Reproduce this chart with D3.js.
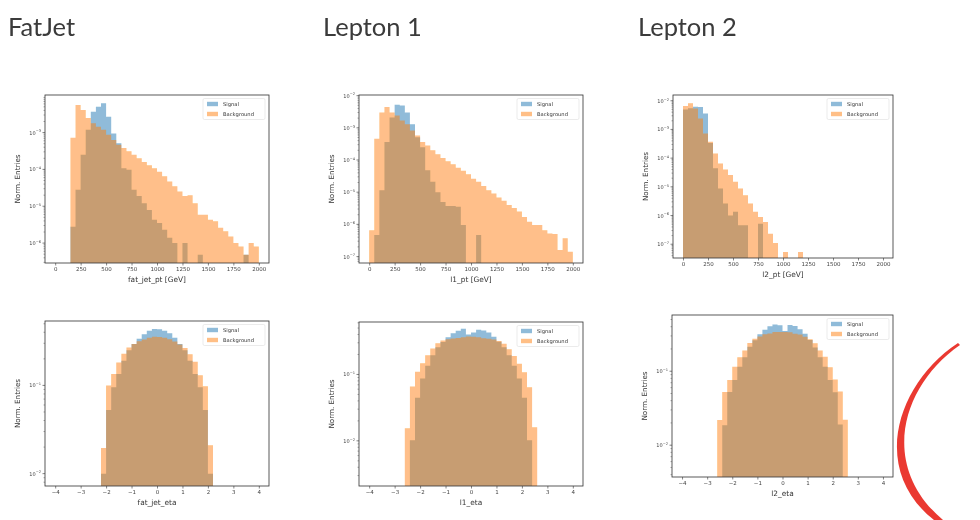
<!DOCTYPE html>
<html>
<head>
<meta charset="utf-8">
<script src="https://cdn.jsdelivr.net/npm/d3@7"></script>
<style>
  body { margin: 0; background: #fff; }
  svg { display: block; }
</style>
</head>
<body>
<div id="vis"></div>
<script>
const width = 980;
const height = 520;

// column titles
const titles = ['FatJet', 'Lepton 1', 'Lepton 2'];

// tick labels
const ptTicks = [0, 250, 500, 750, 1000, 1250, 1500, 1750, 2000];
const etaTicks = [-4, -3, -2, -1, 0, 1, 2, 3, 4];

// pt histograms: 40 bins of 50 GeV from 0 to 2000 (normalised entries)
const ptEdges = d3.range(0, 2001, 50);

const fatJetPtSig = [0, 0, 0, 2.8e-6, 2.8e-5, 2.5e-4, 1.2e-3, 3.7e-3, 5.0e-3, 6.3e-3,
  2.7e-3, 9.5e-4, 5.1e-4, 1.07e-4, 9.8e-5, 2.8e-5, 1.9e-5, 1.2e-5, 7.9e-6, 4.3e-6,
  3.5e-6, 2.3e-6, 1.4e-6, 1.0e-6, 0, 1.0e-6, 0, 0, 4.8e-7, 0,
  0, 0, 0, 0, 0, 0, 0, 4.8e-7, 0, 0];
const fatJetPtBkg = [0, 0, 0, 7.2e-4, 5.6e-3, 4.1e-3, 2.5e-3, 1.8e-3, 1.45e-3, 1.2e-3,
  8.7e-4, 6.3e-4, 4.7e-4, 3.8e-4, 3.1e-4, 2.5e-4, 2.0e-4, 1.6e-4, 1.3e-4, 1.07e-4,
  8.7e-5, 6.5e-5, 4.7e-5, 3.5e-5, 2.5e-5, 1.9e-5, 2.0e-5, 1.2e-5, 5.9e-6, 5.9e-6,
  4.3e-6, 3.9e-6, 2.6e-6, 2.1e-6, 1.5e-6, 1.0e-6, 8.1e-7, 4.8e-7, 1.0e-6, 8.1e-7];

const l1PtSig = [0, 4.7e-7, 1.15e-5, 3.6e-4, 2.1e-3, 5.2e-3, 4.9e-3, 3.0e-3, 1.3e-3, 5.1e-4,
  2.5e-4, 4.8e-5, 2.1e-5, 1.0e-5, 5.0e-6, 3.7e-6, 3.7e-6, 3.5e-6, 9.5e-7, 0,
  0, 4.7e-7, 0, 0, 0, 0, 0, 0, 0, 0,
  0, 0, 0, 0, 0, 0, 0, 0, 0, 0];
const l1PtBkg = [6.6e-7, 4.6e-4, 3.0e-3, 4.4e-3, 3.0e-3, 2.4e-3, 1.7e-3, 1.3e-3, 8.3e-4, 5.8e-4,
  3.6e-4, 2.8e-4, 2.0e-4, 1.5e-4, 1.15e-4, 9.1e-5, 7.4e-5, 5.8e-5, 4.6e-5, 3.6e-5,
  2.6e-5, 2.1e-5, 1.55e-5, 1.15e-5, 9.1e-6, 6.9e-6, 5.4e-6, 4.0e-6, 3.2e-6, 2.5e-6,
  1.7e-6, 1.2e-6, 9.5e-7, 9.5e-7, 6.6e-7, 5.2e-7, 5.0e-7, 1.6e-7, 3.7e-7, 1.4e-7];

const l2PtSig = [5.0e-3, 5.5e-3, 6.2e-3, 6.0e-3, 3.6e-3, 3.4e-4, 4.4e-5, 8.7e-6, 2.6e-6, 1.0e-6,
  1.35e-6, 4.6e-7, 4.6e-7, 0, 0, 5.2e-7, 0, 0, 0, 0,
  0, 0, 0, 0, 0, 0, 0, 0, 0, 0,
  0, 0, 0, 0, 0, 0, 0, 0, 0, 0];
const l2PtBkg = [6.5e-3, 8.1e-3, 5.4e-3, 2.4e-3, 7.2e-4, 3.7e-4, 1.45e-4, 6.5e-5, 4.0e-5, 2.6e-5,
  1.5e-5, 8.7e-6, 5.1e-6, 2.6e-6, 1.35e-6, 8.9e-7, 6.0e-7, 2.3e-7, 1.1e-7, 0,
  5.4e-8, 0, 0, 5.4e-8, 0, 0, 0, 0, 0, 0,
  0, 0, 0, 0, 0, 0, 0, 0, 0, 0];

// eta histograms: bins of 0.2
const fatJetEtaEdges = d3.range(23).map(i => -2.2 + i * 0.2);
const lepEtaEdges = d3.range(27).map(i => -2.6 + i * 0.2);

const fatJetEtaSig = [0.010, 0.0525, 0.0955, 0.135, 0.19, 0.251, 0.295, 0.339, 0.38, 0.417, 0.437,
  0.432, 0.417, 0.389, 0.347, 0.295, 0.251, 0.19, 0.135, 0.0955, 0.0525, 0.010];
const fatJetEtaBkg = [0.0195, 0.10, 0.135, 0.182, 0.229, 0.269, 0.295, 0.316, 0.331, 0.347, 0.355,
  0.354, 0.346, 0.333, 0.314, 0.29, 0.265, 0.225, 0.185, 0.13, 0.098, 0.021];

const l1EtaSig = [0, 0.0102, 0.0447, 0.087, 0.135, 0.195, 0.257, 0.309, 0.363, 0.417, 0.457, 0.49, 0.40,
  0.43, 0.47, 0.46, 0.43, 0.37, 0.31, 0.257, 0.195, 0.135, 0.087, 0.0447, 0.0102, 0];
const l1EtaBkg = [0.0155, 0.066, 0.11, 0.148, 0.195, 0.245, 0.295, 0.324, 0.339, 0.347, 0.355, 0.363, 0.372,
  0.370, 0.362, 0.352, 0.345, 0.336, 0.32, 0.29, 0.24, 0.19, 0.145, 0.108, 0.064, 0.016];

const l2EtaSig = [0, 0.0186, 0.0525, 0.0759, 0.115, 0.155, 0.214, 0.263, 0.316, 0.363, 0.407, 0.427, 0.417,
  0.35, 0.42, 0.41, 0.37, 0.32, 0.265, 0.21, 0.155, 0.115, 0.076, 0.052, 0.019, 0];
const l2EtaBkg = [0.0219, 0.0525, 0.0759, 0.115, 0.155, 0.191, 0.24, 0.275, 0.295, 0.316, 0.324, 0.339, 0.339,
  0.338, 0.337, 0.322, 0.314, 0.293, 0.27, 0.238, 0.19, 0.157, 0.113, 0.077, 0.053, 0.022];

const seriesNames = ['Signal', 'Background'];
const colors = ['#1f77b4', '#ff7f0e'];

// panel layout: frame box in page pixels, axis ranges
const panels = [
  { x: 45, y: 95, w: 224, h: 168, xDom: [-100, 2100], yExp: [-6.54, -1.98], yTicks: [-3, -4, -5, -6],
    xTicks: ptTicks, edges: ptEdges, sig: fatJetPtSig, bkg: fatJetPtBkg, xLabel: 'fat_jet_pt [GeV]' },
  { x: 359, y: 95, w: 224, h: 168, xDom: [-100, 2100], yExp: [-7.2, -1.98], yTicks: [-2, -3, -4, -5, -6, -7],
    xTicks: ptTicks, edges: ptEdges, sig: l1PtSig, bkg: l1PtBkg, xLabel: 'l1_pt [GeV]' },
  { x: 673, y: 95, w: 220, h: 163, xDom: [-100, 2100], yExp: [-7.48, -1.8], yTicks: [-2, -3, -4, -5, -6, -7],
    xTicks: ptTicks, edges: ptEdges, sig: l2PtSig, bkg: l2PtBkg, xLabel: 'l2_pt [GeV]' },
  { x: 45, y: 321, w: 224, h: 165, xDom: [-4.4, 4.4], yExp: [-2.14, -0.27], yTicks: [-1, -2],
    xTicks: etaTicks, edges: fatJetEtaEdges, sig: fatJetEtaSig, bkg: fatJetEtaBkg, xLabel: 'fat_jet_eta' },
  { x: 359, y: 322, w: 224, h: 164, xDom: [-4.4, 4.4], yExp: [-2.68, -0.21], yTicks: [-1, -2],
    xTicks: etaTicks, edges: lepEtaEdges, sig: l1EtaSig, bkg: l1EtaBkg, xLabel: 'l1_eta' },
  { x: 672, y: 315, w: 221, h: 162, xDom: [-4.4, 4.4], yExp: [-2.43, -0.24], yTicks: [-1, -2],
    xTicks: etaTicks, edges: lepEtaEdges, sig: l2EtaSig, bkg: l2EtaBkg, xLabel: 'l2_eta' }
];

const svg = d3.select('#vis')
              .append('svg')
              .attr('width', width)
              .attr('height', height);

// soft look of the pasted screenshot
svg.append('defs')
   .append('filter')
   .attr('id', 'soft')
   .append('feGaussianBlur')
   .attr('stdDeviation', 0.45);

const page = svg.append('g').attr('filter', 'url(#soft)');

// slide titles
page.selectAll('text.title')
    .data(titles)
    .enter()
    .append('text')
    .attr('class', 'title')
    .attr('x', (d, i) => [8, 323, 638][i])
    .attr('y', 36)
    .attr('font-family', 'Lato, sans-serif')
    .attr('font-size', 25.5)
    .attr('fill', '#3a3a3a')
    .text(d => d);

const minus = n => String(n).replace('-', '\u2212');

panels.forEach(p => {
    const g = page.append('g');
    const bottom = p.y + p.h;

    const x = d3.scaleLinear().domain(p.xDom).range([p.x, p.x + p.w]);
    const y = d3.scaleLog()
                .domain([Math.pow(10, p.yExp[0]), Math.pow(10, p.yExp[1])])
                .range([bottom, p.y])
                .clamp(true);

    // each series as one stepped area, so neighbouring bins never overlap
    const area = d3.area()
                   .curve(d3.curveStepAfter)
                   .x(d => x(d.e))
                   .y0(bottom)
                   .y1(d => d.v > 0 ? y(d.v) : bottom);

    // signal first, background drawn over it
    [p.sig, p.bkg].forEach((vals, s) => {
        const pts = p.edges.map((e, i) => ({ e: e, v: i < vals.length ? vals[i] : 0 }));
        g.append('path')
         .datum(pts)
         .attr('d', area)
         .attr('fill', colors[s])
         .attr('fill-opacity', 0.5);
    });

    // frame
    g.append('rect')
     .attr('x', p.x).attr('y', p.y)
     .attr('width', p.w).attr('height', p.h)
     .attr('fill', 'none')
     .attr('stroke', '#333')
     .attr('stroke-width', 0.8);

    // x axis
    const xAxis = g.append('g').attr('transform', `translate(0,${bottom})`)
                   .call(d3.axisBottom(x).tickValues(p.xTicks).tickSize(2.5).tickPadding(2)
                           .tickFormat(d => minus(d)));
    xAxis.select('.domain').remove();
    xAxis.selectAll('line').attr('stroke', '#333').attr('stroke-width', 0.6);
    xAxis.selectAll('text').attr('font-family', 'DejaVu Sans, sans-serif')
         .attr('font-size', 5.5).attr('fill', '#444');

    // y axis: minor ticks
    const minor = [];
    for (let k = Math.floor(p.yExp[0]); k <= Math.ceil(p.yExp[1]); k++) {
        for (let m = 2; m <= 9; m++) {
            const v = m * Math.pow(10, k);
            const e = Math.log10(v);
            if (e > p.yExp[0] && e < p.yExp[1]) minor.push(v);
        }
    }
    g.append('g')
     .selectAll('line')
     .data(minor)
     .enter()
     .append('line')
     .attr('x1', p.x - 1.5).attr('x2', p.x)
     .attr('y1', d => y(d)).attr('y2', d => y(d))
     .attr('stroke', '#333').attr('stroke-width', 0.4);

    // y axis: major ticks with 10^k labels
    const major = g.append('g')
                   .selectAll('g')
                   .data(p.yTicks)
                   .enter()
                   .append('g')
                   .attr('transform', d => `translate(${p.x},${y(Math.pow(10, d))})`);
    major.append('line')
         .attr('x1', -2.5).attr('x2', 0)
         .attr('stroke', '#333').attr('stroke-width', 0.6);
    const lab = major.append('text')
                     .attr('x', -4)
                     .attr('y', 2)
                     .attr('text-anchor', 'end')
                     .attr('font-family', 'DejaVu Sans, sans-serif')
                     .attr('font-size', 5)
                     .attr('fill', '#444');
    lab.append('tspan').text('10');
    lab.append('tspan')
       .attr('dy', -2.2)
       .attr('font-size', 3.6)
       .text(d => minus(d));

    // axis labels
    g.append('text')
     .attr('x', p.x + p.w / 2)
     .attr('y', bottom + 19)
     .attr('text-anchor', 'middle')
     .attr('font-family', 'DejaVu Sans, sans-serif')
     .attr('font-size', 7.4)
     .attr('fill', '#333')
     .text(p.xLabel);

    g.append('text')
     .attr('transform', `translate(${p.x - 25},${p.y + p.h / 2}) rotate(-90)`)
     .attr('text-anchor', 'middle')
     .attr('font-family', 'DejaVu Sans, sans-serif')
     .attr('font-size', 7.2)
     .attr('fill', '#333')
     .text('Norm. Entries');

    // legend
    const lx = p.x + p.w - 66;
    const ly = p.y + 3.5;
    const legend = g.append('g').attr('transform', `translate(${lx},${ly})`);
    legend.append('rect')
          .attr('width', 62).attr('height', 21).attr('rx', 1.5)
          .attr('fill', '#fff').attr('fill-opacity', 0.8)
          .attr('stroke', '#ddd').attr('stroke-width', 0.6);
    const item = legend.selectAll('g')
                       .data(seriesNames)
                       .enter()
                       .append('g')
                       .attr('transform', (d, i) => `translate(4,${5.5 + i * 10})`);
    item.append('rect')
        .attr('y', -2.2).attr('width', 11).attr('height', 4.4)
        .attr('fill', (d, i) => colors[i]).attr('fill-opacity', 0.5);
    item.append('text')
        .attr('x', 16).attr('y', 1.9)
        .attr('font-family', 'DejaVu Sans, sans-serif')
        .attr('font-size', 5.2)
        .attr('fill', '#333')
        .text(d => d);
});

// red pen stroke on the right edge of the slide
svg.append('path')
   .attr('d', 'M 958 343 C 896 384, 870 470, 934 520 L 943 520 C 879 466, 901 386, 960 345 Z')
   .attr('fill', '#e8231b')
   .attr('fill-opacity', 0.9);
</script>
</body>
</html>
